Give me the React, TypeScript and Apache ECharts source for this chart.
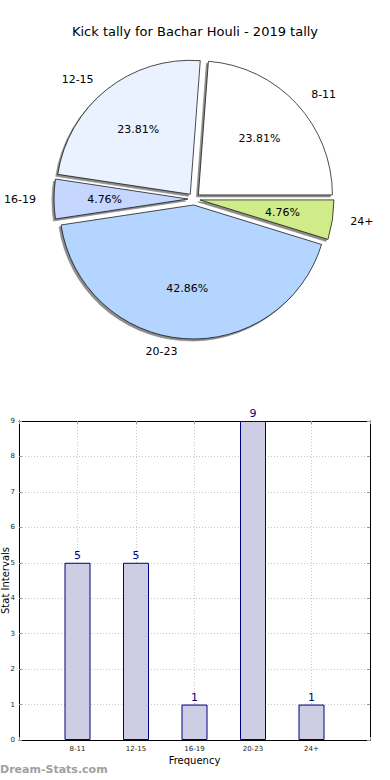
import React, { useEffect, useRef } from "react";
import * as echarts from "echarts";

const TITLE = "Kick tally for Bachar Houli - 2019 tally";
const categories = ["8-11", "12-15", "16-19", "20-23", "24+"];
const counts = [5, 5, 1, 9, 1];
const sliceColors = ["#ffffff", "#eaf1ff", "#c5d7fe", "#b4d5ff", "#cfeb8a"];
const yTicks = [0, 1, 2, 3, 4, 5, 6, 7, 8, 9];
const xAxisName = "Frequency";
const yAxisName = "Stat Intervals";
const watermark = "Dream-Stats.com";

const FONT = "DejaVu Sans";

export default function App() {
  const ref = useRef<HTMLDivElement>(null);
  useEffect(() => {
    if (!ref.current) return;
    const chart = echarts.init(ref.current, null, { renderer: "svg" });
    const R = 134;
    const center = [194, 199];
    const pieData = categories.map((c, i) => ({
      name: c,
      value: counts[i],
      selected: true,
      itemStyle: { color: sliceColors[i] },
    }));
    const barData = counts.map((v, i) => [i + 1, v]);
    chart.setOption({
      animation: false,
      backgroundColor: "#ffffff",
      textStyle: { fontFamily: FONT },
      title: {
        text: TITLE,
        left: "center",
        top: 20,
        textStyle: { fontFamily: FONT, fontSize: 13, fontWeight: "normal", color: "#000" },
      },
      graphic: [
        {
          type: "text",
          left: 0,
          top: 764,
          style: { text: watermark, fontFamily: FONT, fontSize: 11, fontWeight: "bold", fill: "#a0a0a0" },
        },
      ],
      grid: { left: 19, top: 421, width: 351, height: 319, containLabel: false, outerBoundsMode: "none" },
      xAxis: [
        {
          type: "value",
          min: 0,
          max: 6,
          interval: 1,
          name: xAxisName,
          nameLocation: "middle",
          nameGap: 15,
          nameMoveOverlap: false,
          nameTextStyle: { fontFamily: FONT, fontSize: 10, color: "#000" },
          axisLine: { show: true, lineStyle: { color: "#000", width: 1 } },
          axisTick: { show: true, inside: true, length: 3, lineStyle: { color: "#999" } },
          axisLabel: {
            fontFamily: FONT,
            fontSize: 7,
            color: "#222",
            margin: 5,
            formatter: (v: number) => categories[v - 1] ?? "",
          },
          splitLine: { show: true, lineStyle: { color: "#c8c8c8", type: [1, 2], width: 1 } },
        },
        {
          type: "value",
          position: "top",
          min: 0,
          max: 6,
          interval: 1,
          axisLine: { show: true, onZero: false, lineStyle: { color: "#000", width: 1 } },
          axisTick: { show: true, inside: true, length: 3, lineStyle: { color: "#999" } },
          axisLabel: { show: false },
          splitLine: { show: false },
        },
      ],
      yAxis: [
        {
          type: "value",
          min: 0,
          max: 9,
          interval: 1,
          name: yAxisName,
          nameLocation: "middle",
          nameGap: 9,
          nameMoveOverlap: false,
          nameTextStyle: { fontFamily: FONT, fontSize: 10, color: "#000" },
          axisLine: { show: true, lineStyle: { color: "#000", width: 1 } },
          axisTick: { show: true, inside: true, length: 3, lineStyle: { color: "#999" } },
          axisLabel: {
            fontFamily: FONT,
            fontSize: 7,
            color: "#222",
            margin: 4,
            formatter: (v: number) => (yTicks.includes(v) ? String(v) : ""),
          },
          splitLine: { show: true, lineStyle: { color: "#c8c8c8", type: [1, 2], width: 1 } },
        },
        {
          type: "value",
          position: "right",
          min: 0,
          max: 9,
          interval: 1,
          axisLine: { show: true, onZero: false, lineStyle: { color: "#000", width: 1 } },
          axisTick: { show: true, inside: true, length: 3, lineStyle: { color: "#999" } },
          axisLabel: { show: false },
          splitLine: { show: false },
        },
      ],
      series: [
        {
          type: "pie",
          center,
          radius: [0, R],
          clockwise: false,
          startAngle: 0,
          selectedMode: "multiple",
          selectedOffset: 6,
          avoidLabelOverlap: false,
          silent: true,
          data: pieData,
          itemStyle: {
            borderColor: "#000",
            borderWidth: 0.7,
            shadowColor: "rgba(0,0,0,0.45)",
            shadowBlur: 1,
            shadowOffsetX: -2,
            shadowOffsetY: 2,
          },
          label: {
            show: true,
            position: "outside",
            alignTo: "none",
            formatter: "{b}",
            fontFamily: FONT,
            fontSize: 11,
            color: "#000",
          },
          labelLine: { show: false, length: 13, length2: 0 },
        },
        {
          type: "pie",
          center,
          radius: [R * 0.2, R],
          clockwise: false,
          startAngle: 0,
          selectedMode: "multiple",
          selectedOffset: 6,
          avoidLabelOverlap: false,
          silent: true,
          z: 5,
          data: pieData.map((d) => ({ ...d, itemStyle: { color: "rgba(0,0,0,0)", borderWidth: 0 } })),
          itemStyle: { color: "rgba(0,0,0,0)", borderWidth: 0 },
          label: {
            show: true,
            position: "inside",
            formatter: "{d}%",
            fontFamily: FONT,
            fontSize: 11,
            color: "#000",
          },
          labelLine: { show: false },
        },
        {
          type: "bar",
          xAxisIndex: 0,
          yAxisIndex: 0,
          barWidth: 26,
          data: barData,
          itemStyle: { color: "#cdcde4", borderColor: "#000080", borderWidth: 1 },
          label: {
            show: true,
            position: "top",
            distance: 2,
            fontFamily: FONT,
            fontSize: 11,
            color: "#000080",
            formatter: (p: any) => String(p.value[1]),
          },
        },
      ],
    });
    return () => chart.dispose();
  }, []);
  return <div ref={ref} style={{ position: "fixed", left: 0, top: 0, width: 390, height: 780 }} />;
}
